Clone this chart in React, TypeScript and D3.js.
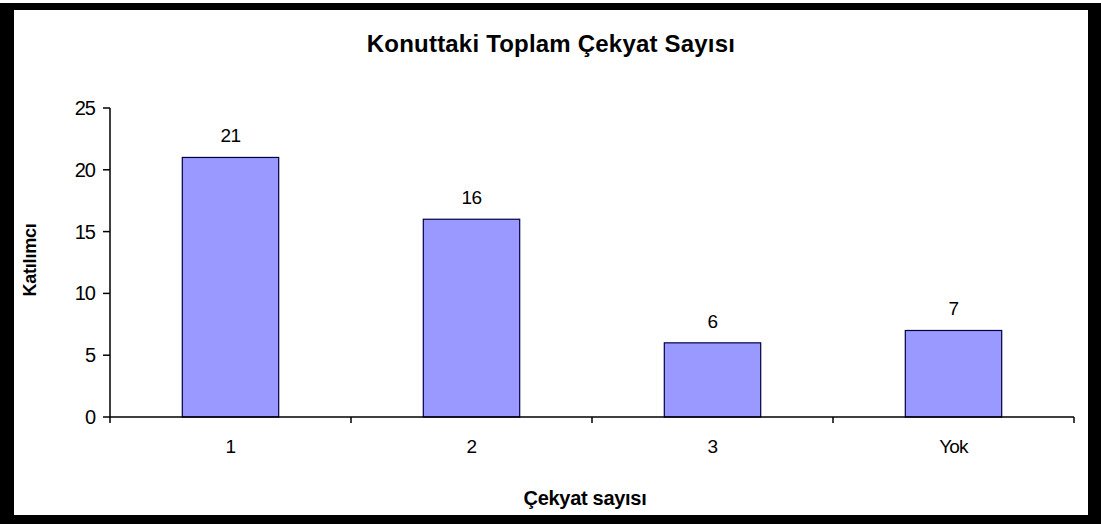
import React from "react";
import * as d3 from "d3";

const categories = ["1", "2", "3", "Yok"];
const values = [21, 16, 6, 7];
const yTicks = [0, 5, 10, 15, 20, 25];
const title = "Konuttaki Toplam Çekyat Sayısı";
const xTitle = "Çekyat sayısı";
const yTitle = "Katılımcı";

export default function App() {
  const W = 1101, H = 524;
  const x0 = 110, x1 = 1074, yBase = 417, yTop = 108;
  const x = d3.scaleBand<string>().domain(categories).range([x0, x1]).paddingInner(0.6).paddingOuter(0.3);
  const xb = d3.scaleBand<string>().domain(categories).range([x0, x1]);
  const y = d3.scaleLinear().domain([0, 25]).range([yBase, yTop]);
  const font = "Arial, 'Liberation Sans', sans-serif";
  return (
    <svg width={W} height={H} style={{ position: "absolute", left: 0, top: 0 }}>
      <rect x={0} y={0} width={W} height={H} fill="#fff" />
      <rect x={0} y={3} width={1101} height={521} fill="#000" />
      <rect x={14} y={10} width={1074} height={505} fill="#fff" />
      <text x={551} y={52} textAnchor="middle" fontFamily={font} fontWeight="bold" fontSize={24} letterSpacing={0.2}>{title}</text>
      {/* y axis */}
      <line x1={x0} x2={x0} y1={yTop} y2={yBase} stroke="#000" strokeWidth={1.5} />
      {yTicks.map(t => (
        <g key={t}>
          <line x1={x0 - 7} x2={x0} y1={y(t)} y2={y(t)} stroke="#000" strokeWidth={1.5} />
          <text x={x0 - 15} y={y(t) + 7} textAnchor="end" fontFamily={font} fontSize={20} letterSpacing={-1} fill="#000">{t}</text>
        </g>
      ))}
      {/* bars */}
      {categories.map((c, i) => (
        <g key={c}>
          <rect x={x(c)!} y={y(values[i])} width={x.bandwidth()} height={yBase - y(values[i])} fill="#9999FF" stroke="#000040" strokeWidth={1.2} />
          <text x={x(c)! + x.bandwidth() / 2} y={y(values[i]) - 15} textAnchor="middle" fontFamily={font} fontSize={19} letterSpacing={-0.5} fill="#000">{values[i]}</text>
          <text x={xb(c)! + xb.bandwidth() / 2} y={453} textAnchor="middle" fontFamily={font} fontSize={19} letterSpacing={-0.8} fill="#000">{c}</text>
        </g>
      ))}
      {/* x axis */}
      <line x1={x0} x2={x1} y1={yBase} y2={yBase} stroke="#000" strokeWidth={1.5} />
      {[...categories.map(c => xb(c)!), x1].map((t, i) => (
        <line key={i} x1={t} x2={t} y1={yBase} y2={yBase + 6} stroke="#000" strokeWidth={1.5} />
      ))}
      <text x={585} y={505} textAnchor="middle" fontFamily={font} fontWeight="bold" fontSize={20} letterSpacing={-0.3}>{xTitle}</text>
      <text transform={`translate(36,260) rotate(-90)`} textAnchor="middle" fontFamily={font} fontWeight="bold" fontSize={18} letterSpacing={-0.2}>{yTitle}</text>
    </svg>
  );
}
